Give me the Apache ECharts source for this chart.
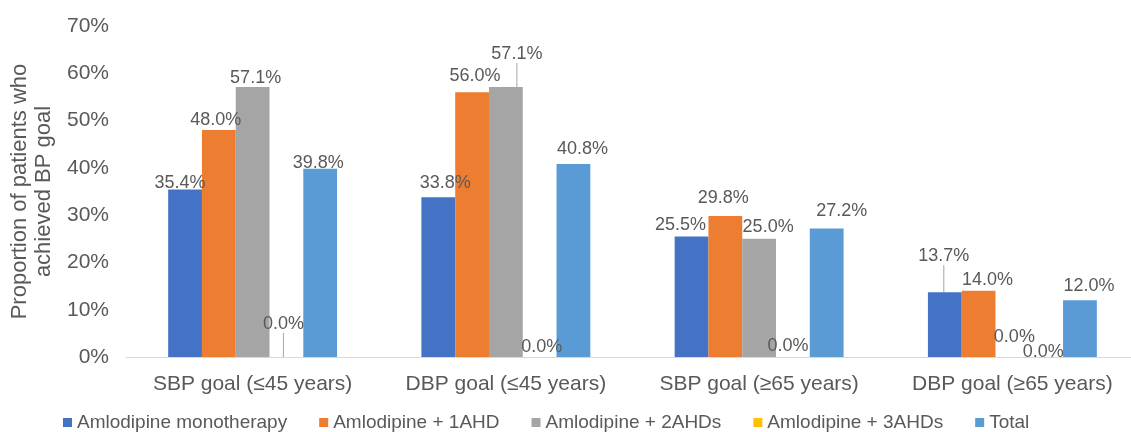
<!DOCTYPE html>
<html>
<head>
<meta charset="utf-8">
<script src="https://cdn.jsdelivr.net/npm/echarts@6/dist/echarts.min.js"></script>
<style>
  html, body { margin: 0; padding: 0; background: #ffffff; }
  #chart { width: 1131px; height: 432px; }
</style>
</head>
<body>
<div id="chart"></div>
<script>
// Goal attainment by treatment regimen and age group
const categories = ['SBP goal (≤45 years)', 'DBP goal (≤45 years)', 'SBP goal (≥65 years)', 'DBP goal (≥65 years)'];
const seriesNames = ['Amlodipine monotherapy', 'Amlodipine + 1AHD', 'Amlodipine + 2AHDs', 'Amlodipine + 3AHDs', 'Total'];

const monotherapy = [35.4, 33.8, 25.5, 13.7];
const plusOneAHD = [48.0, 56.0, 29.8, 14.0];
const plusTwoAHDs = [57.1, 57.1, 25.0, 0.0];
const plusThreeAHDs = [0.0, 0.0, 0.0, 0.0];
const totalAll = [39.8, 40.8, 27.2, 12.0];

const yTickLabels = ['0%', '10%', '20%', '30%', '40%', '50%', '60%', '70%'];

const seriesValues = [monotherapy, plusOneAHD, plusTwoAHDs, plusThreeAHDs, totalAll];
const seriesColors = ['#4472C4', '#ED7D31', '#A5A5A5', '#FFC000', '#5B9BD5'];

// Hand-placed label nudges [dx, dy] per series and category
const labelNudges = [
  [[-5, 3], [7, -4], [-11, -1], [-1, -26]],
  [[-3, 0], [3, -6], [-2, -8], [9, -1]],
  [[3, 1], [11, -23], [9, -2], [2, -10]],
  [[-3, -23], [2, 0], [-5, -1], [-3, 5]],
  [[-2, 4], [9, -5], [15, -7], [9, -4]]
];
// Labels that are tied back to their bar with a leader line
const leaderLines = [[0, 3], [2, 1], [3, 0]];

const textColor = '#595959';
const font = 'Liberation Sans, Arial, sans-serif';

const chart = echarts.init(document.getElementById('chart'), null, { renderer: 'canvas' });

const series = seriesNames.map((name, s) => ({
  name: name,
  type: 'bar',
  barGap: '0%',
  barCategoryGap: '33.3%',
  itemStyle: { color: seriesColors[s] },
  label: {
    show: true,
    position: 'top',
    distance: 1,
    color: textColor,
    fontSize: 18,
    fontFamily: font,
    formatter: p => p.value.toFixed(1) + '%'
  },
  labelLine: { show: false, lineStyle: { color: '#A6A6A6', width: 1 } },
  labelLayout: p => {
    const n = labelNudges[p.seriesIndex][p.dataIndex];
    return { dx: n[0], dy: n[1] };
  },
  data: seriesValues[s].map((v, i) => {
    const item = { value: v };
    if (leaderLines.some(l => l[0] === s && l[1] === i)) {
      item.labelLine = { show: true, lineStyle: { color: '#A6A6A6', width: 1 } };
    }
    return item;
  })
}));

chart.setOption({
  animation: false,
  backgroundColor: '#ffffff',
  textStyle: { fontFamily: font },
  grid: { left: 126, top: 26, width: 1013, height: 331, containLabel: false, outerBoundsMode: 'none' },
  legend: {
    data: seriesNames,
    left: 58,
    top: 408,
    itemWidth: 9,
    itemHeight: 9,
    itemGap: 32,
    icon: 'rect',
    textStyle: { color: textColor, fontSize: 19, fontFamily: font }
  },
  xAxis: {
    type: 'category',
    data: categories,
    axisLine: { show: true, lineStyle: { color: '#D9D9D9', width: 1 } },
    axisTick: { show: false },
    axisLabel: { color: textColor, fontSize: 21, margin: 17, interval: 0, fontFamily: font }
  },
  yAxis: {
    type: 'value',
    min: 0,
    max: 70,
    interval: 10,
    name: 'Proportion of patients who\nachieved BP goal',
    nameLocation: 'middle',
    nameRotate: 90,
    nameGap: 68,
    nameTextStyle: { color: textColor, fontSize: 22, lineHeight: 24, align: 'center', fontFamily: font },
    splitLine: { show: false },
    axisLine: { show: false },
    axisTick: { show: false },
    axisLabel: {
      color: textColor,
      fontSize: 21,
      margin: 17,
      fontFamily: font,
      formatter: v => yTickLabels[Math.round(v / 10)]
    }
  },
  series: series
});
</script>
</body>
</html>
